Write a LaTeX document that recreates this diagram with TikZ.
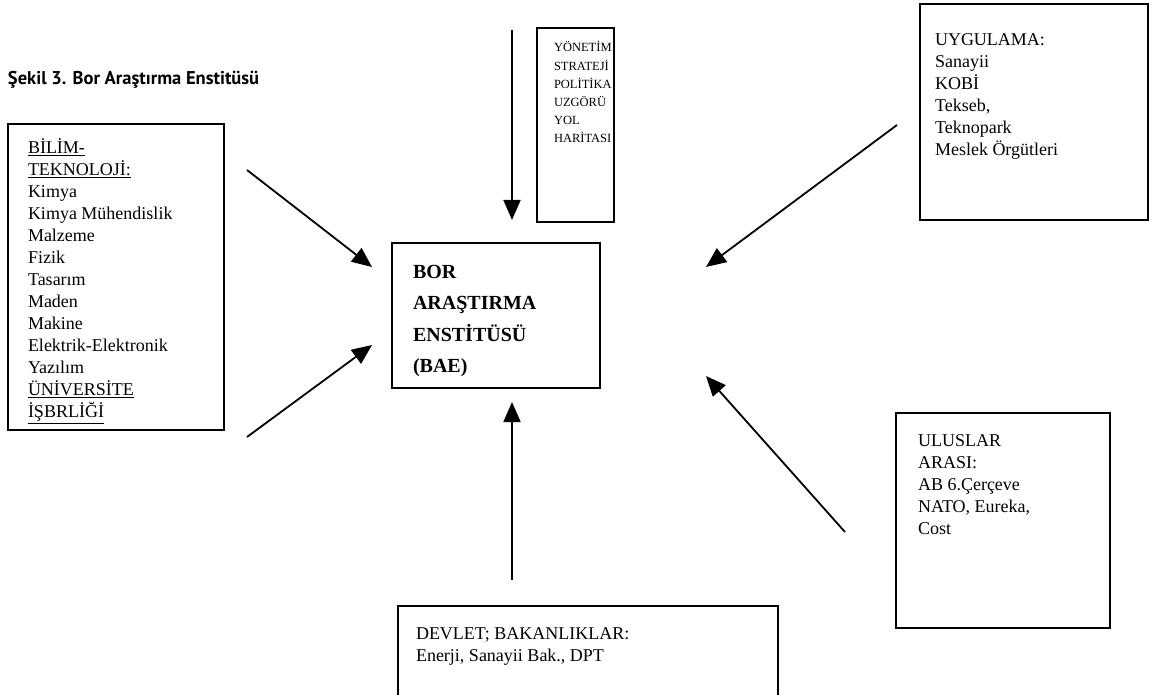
\documentclass[tikz,border=0pt]{standalone}
\usepackage{fontspec}
\setmainfont{Liberation Serif}
\newfontfamily\titlefont{PT Sans}
\usetikzlibrary{arrows.meta}
\newcommand{\mytextblock}[2]{\parbox[t]{#1}{\raggedright\setlength{\parindent}{0pt}#2}}
\begin{document}
\begin{tikzpicture}[x=1pt,y=-1pt,
  frame/.style={draw, line width=1.3pt, inner sep=0pt, outer sep=0pt, anchor=north west},
  txt/.style={anchor=base west, inner sep=0pt, outer sep=0pt},
  arr/.style={line width=1.8pt, -{Triangle[length=20pt,width=17pt]}},
  body/.style={font=\fontsize{18}{22}\selectfont},
  small/.style={font=\fontsize{12.5}{18.2}\selectfont},
  bigbold/.style={font=\fontsize{20}{31.5}\selectfont\bfseries}]
\useasboundingbox (0,0) rectangle (1154,695);

% title
\node[txt, font=\titlefont\bfseries\fontsize{18.5}{22}\selectfont] (title) at (8,85) {Şekil 3. Bor Araştırma Enstitüsü};

% boxes
\node[frame, minimum width=216pt, minimum height=306pt] (bilimbox) at (8,124) {};
\node[frame, minimum width=77pt, minimum height=194pt] (yonbox) at (537,28) {};
\node[frame, minimum width=228pt, minimum height=216pt] (uygbox) at (920,4) {};
\node[frame, minimum width=208pt, minimum height=145pt] (baebox) at (392,243) {};
\node[frame, minimum width=214pt, minimum height=215pt] (ulusbox) at (896,413) {};
\draw[line width=1.3pt] (398,696) |- (778,606) -- (778,696);

% texts
\node[txt, body] (bilimtxt) at (28,154) {\mytextblock{190pt}{\underline{BİLİM-}\\ \underline{TEKNOLOJİ:}\\ Kimya\\ Kimya Mühendislik\\ Malzeme\\ Fizik\\ Tasarım\\ Maden\\ Makine\\ Elektrik-Elektronik\\ Yazılım\\ \underline{ÜNİVERSİTE}\\ \underline{İŞBRLİĞİ}}};
\node[txt, small] (yontxt) at (554,52) {\mytextblock{70pt}{YÖNETİM\\ STRATEJİ\\ POLİTİKA\\ UZGÖRÜ\\ YOL\\ HARİTASI}};
\node[txt, body] (uygtxt) at (935,46) {\mytextblock{210pt}{UYGULAMA:\\ Sanayii\\ KOBİ\\ Tekseb,\\ Teknopark\\ Meslek Örgütleri}};
\node[txt, bigbold] (baetxt) at (413,278) {\mytextblock{180pt}{BOR\\ ARAŞTIRMA\\ ENSTİTÜSÜ\\ (BAE)}};
\node[txt, body] (ulustxt) at (918,446) {\mytextblock{190pt}{ULUSLAR\\ ARASI:\\ AB 6.Çerçeve\\ NATO, Eureka,\\ Cost}};
\node[txt, body] (devtxt) at (416,639) {\mytextblock{350pt}{DEVLET; BAKANLIKLAR:\\ Enerji, Sanayii Bak., DPT}};

% arrows
\coordinate (a1s) at (247,170); \coordinate (a1e) at (372,267);
\coordinate (a2s) at (247,437); \coordinate (a2e) at (372,345);
\coordinate (a3s) at (512,30);  \coordinate (a3e) at (512,220);
\coordinate (a4s) at (897,125); \coordinate (a4e) at (706,267);
\coordinate (a5s) at (512,580); \coordinate (a5e) at (512,402);
\coordinate (a6s) at (845,532); \coordinate (a6e) at (706,376);
\draw[arr] (a1s) -- (a1e);
\draw[arr] (a2s) -- (a2e);
\draw[arr] (a3s) -- (a3e);
\draw[arr] (a4s) -- (a4e);
\draw[arr] (a5s) -- (a5e);
\draw[arr] (a6s) -- (a6e);
\end{tikzpicture}
\end{document}
